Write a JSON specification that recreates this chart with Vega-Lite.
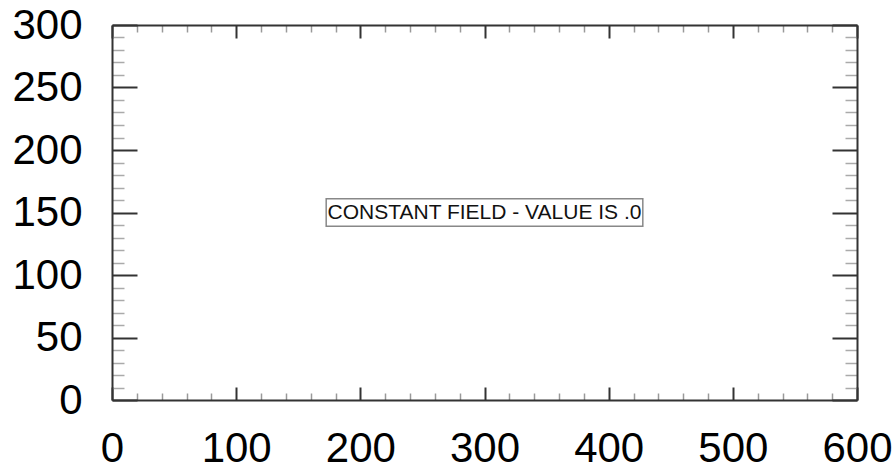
{
  "$schema": "https://vega.github.io/schema/vega-lite/v6.json",
  "autosize": "none",
  "width": 745,
  "height": 375,
  "padding": {"left": 112, "top": 25, "right": 38, "bottom": 68},
  "background": "white",
  "config": {
    "view": {"stroke": null},
    "font": "Liberation Sans",
    "axis": {
      "grid": false,
      "title": null,
      "domainColor": "#333333",
      "domainWidth": 2,
      "labelFont": "Liberation Sans",
      "labelFontSize": 42,
      "labelColor": "#000000",
      "labelOverlap": false,
      "labelFlush": false
    }
  },
  "data": {
    "values": [
      {"x": 300, "y": 150, "bx0": 172.5, "bx1": 427.5, "by0": 139, "by1": 161, "msg": "CONSTANT FIELD - VALUE IS .0"}
    ]
  },
  "resolve": {"axis": {"x": "independent", "y": "independent"}},
  "layer": [
    {
      "mark": {"type": "rect", "fill": "white", "stroke": "#888888", "strokeWidth": 1.5},
      "encoding": {
        "x": {
          "field": "bx0", "type": "quantitative",
          "scale": {"domain": [0, 600], "nice": false, "zero": false},
          "axis": {
            "orient": "bottom",
            "values": [0,20,40,60,80,100,120,140,160,180,200,220,240,260,280,300,320,340,360,380,400,420,440,460,480,500,520,540,560,580,600],
            "labelExpr": "datum.value % 100 === 0 ? datum.label : ''",
            "tickSize": {"condition": {"test": "datum.value % 100 === 0", "value": -13}, "value": -7},
            "tickWidth": {"condition": {"test": "datum.value % 100 === 0", "value": 2}, "value": 1.5},
            "tickColor": {"condition": {"test": "datum.value % 100 === 0", "value": "#333333"}, "value": "#999999"},
            "labelPadding": 41
          }
        },
        "x2": {"field": "bx1"},
        "y": {
          "field": "by0", "type": "quantitative",
          "scale": {"domain": [0, 300], "nice": false, "zero": false},
          "axis": {
            "orient": "left",
            "values": [0,10,20,30,40,50,60,70,80,90,100,110,120,130,140,150,160,170,180,190,200,210,220,230,240,250,260,270,280,290,300],
            "labelExpr": "datum.value % 50 === 0 ? datum.label : ''",
            "tickSize": {"condition": {"test": "datum.value % 50 === 0", "value": -25}, "value": -12},
            "tickWidth": {"condition": {"test": "datum.value % 50 === 0", "value": 2}, "value": 1.5},
            "tickColor": {"condition": {"test": "datum.value % 50 === 0", "value": "#333333"}, "value": "#aaaaaa"},
            "labelPadding": 55
          }
        },
        "y2": {"field": "by1"}
      }
    },
    {
      "mark": {"type": "text", "font": "Liberation Sans", "fontSize": 21, "color": "#111111", "align": "center", "baseline": "middle"},
      "encoding": {
        "x": {
          "field": "x", "type": "quantitative",
          "scale": {"domain": [0, 600], "nice": false, "zero": false},
          "axis": {
            "orient": "top",
            "values": [0,20,40,60,80,100,120,140,160,180,200,220,240,260,280,300,320,340,360,380,400,420,440,460,480,500,520,540,560,580,600],
            "labels": false,
            "tickSize": {"condition": {"test": "datum.value % 100 === 0", "value": -13}, "value": -7},
            "tickWidth": {"condition": {"test": "datum.value % 100 === 0", "value": 2}, "value": 1.5},
            "tickColor": {"condition": {"test": "datum.value % 100 === 0", "value": "#333333"}, "value": "#999999"}
          }
        },
        "y": {
          "field": "y", "type": "quantitative",
          "scale": {"domain": [0, 300], "nice": false, "zero": false},
          "axis": {
            "orient": "right",
            "values": [0,10,20,30,40,50,60,70,80,90,100,110,120,130,140,150,160,170,180,190,200,210,220,230,240,250,260,270,280,290,300],
            "labels": false,
            "tickSize": {"condition": {"test": "datum.value % 50 === 0", "value": -25}, "value": -12},
            "tickWidth": {"condition": {"test": "datum.value % 50 === 0", "value": 2}, "value": 1.5},
            "tickColor": {"condition": {"test": "datum.value % 50 === 0", "value": "#333333"}, "value": "#aaaaaa"}
          }
        },
        "text": {"field": "msg"}
      }
    }
  ]
}
